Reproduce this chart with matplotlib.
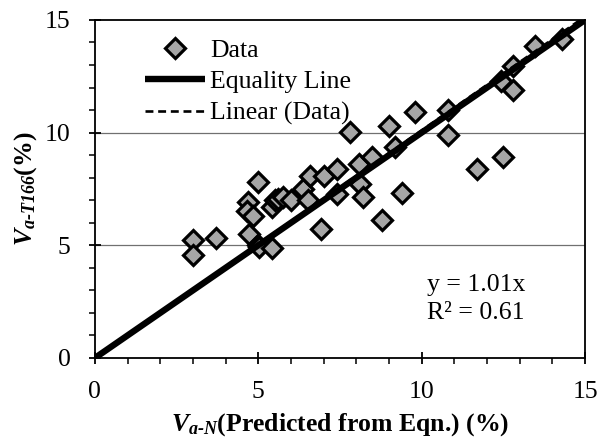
import matplotlib
matplotlib.use("Agg")
import matplotlib.pyplot as plt
import numpy as np
from matplotlib.ticker import MultipleLocator

plt.rcParams['font.family'] = ['Liberation Serif', 'DejaVu Serif']
plt.rcParams['mathtext.fontset'] = 'custom'
plt.rcParams['mathtext.it'] = 'Liberation Serif:italic:bold'
plt.rcParams['mathtext.rm'] = 'Liberation Serif:italic:bold'
plt.rcParams['mathtext.bf'] = 'Liberation Serif:italic:bold'

# Data
x_pred = [3.01, 3.01, 3.70, 4.69, 4.64, 4.85, 4.71, 5.00, 5.00, 5.02, 5.41,
          5.41, 5.51, 5.60, 5.77, 6.00, 6.38, 6.53, 6.58, 6.91, 7.02, 7.40,
          7.40, 7.81, 8.09, 8.11, 8.21, 8.49, 8.78, 9.01, 9.18, 9.39, 9.80,
          10.80, 10.80, 11.68, 12.48, 12.42, 12.78, 12.78, 13.47, 14.29]
y_meas = [5.22, 4.56, 5.32, 6.91, 6.54, 6.32, 5.52, 7.80, 5.00, 4.93, 4.88,
          6.70, 6.99, 7.06, 7.14, 6.99, 7.50, 7.00, 8.07, 5.74, 8.07, 8.39,
          7.29, 10.01, 8.61, 7.73, 7.14, 8.91, 6.11, 10.30, 9.38, 7.30, 10.90,
          11.00, 9.89, 8.40, 8.91, 12.27, 12.96, 11.87, 13.86, 14.16]
slope = 1.01
r2 = 0.61
line_x = [0, 15]

FS = 18.5

fig = plt.figure(figsize=(5.97, 4.43), dpi=100)
ax = fig.add_axes([0.159, 0.192, 0.821, 0.763])

ax.axhline(5, color='#707070', lw=0.9, zorder=0)
ax.axhline(10, color='#707070', lw=0.9, zorder=0)

ax.plot(x_pred, y_meas, linestyle='none', marker='D', markersize=10.5,
        markerfacecolor='#a6a6a6', markeredgecolor='black', markeredgewidth=2.3,
        label='Data', zorder=3)
ax.plot(line_x, line_x, color='black', lw=4.6, label='Equality Line',
        solid_capstyle='butt', zorder=4)
lx = np.array(line_x, dtype=float)
ax.plot(lx, slope * lx, color='black', lw=1.9, linestyle=(0, (3, 1.8)),
        label='Linear (Data)', zorder=5)

ax.set_xlim(0, 15)
ax.set_ylim(0, 15)
ax.xaxis.set_major_locator(MultipleLocator(5))
ax.yaxis.set_major_locator(MultipleLocator(5))
ax.xaxis.set_minor_locator(MultipleLocator(1))
ax.yaxis.set_minor_locator(MultipleLocator(1))
ax.tick_params(which='major', direction='inout', length=9, width=1.3,
               labelsize=FS)
ax.tick_params(axis='x', which='major', pad=12)
ax.tick_params(axis='y', which='major', pad=13)
ax.tick_params(which='minor', direction='out', length=4.5, width=1.1)
for s in ax.spines.values():
    s.set_linewidth(1.3)

ax.set_xlabel(r'$V_{a\text{-}N}$' + '(Predicted from Eqn.) (%)',
              fontsize=FS, fontweight='bold', labelpad=6)
ax.set_ylabel(r'$V_{a\text{-}T166}$' + '(%)',
              fontsize=FS, fontweight='bold', labelpad=4)

ax.text(0.678, 0.216, 'y = 1.01x', transform=ax.transAxes, fontsize=FS,
        va='center', ha='left')
ax.text(0.678, 0.133, 'R² = 0.61', transform=ax.transAxes, fontsize=FS,
        va='center', ha='left')

leg = ax.legend(loc='upper left', frameon=False, fontsize=FS,
                handlelength=2.35, handletextpad=0.2, labelspacing=0.33,
                borderaxespad=0.2, bbox_to_anchor=(0.0706, 0.99))

fig.savefig('out.png', dpi=100)
